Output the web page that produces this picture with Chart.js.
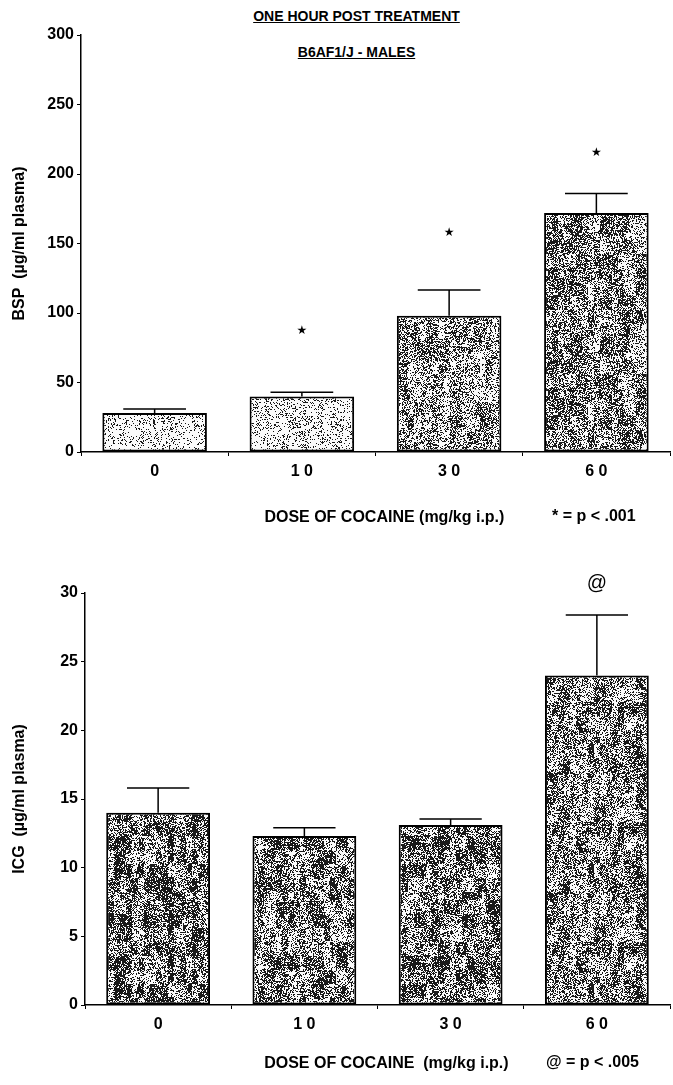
<!DOCTYPE html>
<html>
<head>
<meta charset="utf-8">
<script src="https://cdn.jsdelivr.net/npm/chart.js@4.4.1/dist/chart.umd.min.js"></script>
<style>
  body { margin:0; background:#fff; width:673px; height:1085px; position:relative; overflow:hidden;
         font-family:"Liberation Sans", Arial, sans-serif; font-weight:bold; color:#000; }
  .wrap { position:absolute; left:0; width:673px; }
  .head { position:absolute; left:20px; width:673px; text-align:center; text-decoration:underline; font-size:14px; }
  .note { position:absolute; font-size:16px; }
</style>
</head>
<body>
<div class="head" style="top:8px">ONE HOUR POST TREATMENT</div>
<div class="head" style="top:44px">B6AF1/J - MALES</div>
<div class="wrap" style="top:0;height:540px"><canvas id="bspChart" width="673" height="540"></canvas></div>
<div class="wrap" style="top:540px;height:545px"><canvas id="icgChart" width="673" height="545"></canvas></div>
<div class="note" style="left:552px;top:507px">* = p &lt; .001</div>
<div class="note" style="left:546px;top:1053px">@ = p &lt; .005</div>

<script>
// dose groups (mg/kg i.p.)
const doses = ['0', '1 0', '3 0', '6 0'];

// BSP, ug/ml plasma
const bspMean = [28, 40, 98, 172];
const bspSem = [3, 3, 18.5, 14];
const bspStars = [null, 87, 158, 215];   // * = p < .001
const bspTicks = [0, 50, 100, 150, 200, 250, 300];

// ICG, ug/ml plasma
const icgMean = [14.0, 12.3, 13.1, 24.0];
const icgSem = [1.8, 0.6, 0.45, 4.4];
const icgMarks = [null, null, null, 30.7]; // @ = p < .005
const icgTicks = [0, 5, 10, 15, 20, 25, 30];

const FONT = '"Liberation Sans", Arial, sans-serif';

// speckled grey fill like the photocopied bars (deterministic texture, not data)
function stipple(density, seed) {
  const size = 120;
  const c = document.createElement('canvas');
  c.width = c.height = size;
  const g = c.getContext('2d');
  const img = g.createImageData(size, size);
  let s = seed;
  const rnd = () => (s = (s * 16807) % 2147483647) / 2147483647;
  const cw = 6, ch = 14;
  const coarse = [];
  for (let i = 0; i < (size / cw) * Math.ceil(size / ch); i++) coarse.push(rnd());
  for (let y = 0; y < size; y++) {
    for (let x = 0; x < size; x++) {
      const k = Math.floor(y / ch) * (size / cw) + Math.floor(x / cw);
      const p = density * (0.45 + 1.1 * coarse[k]);
      const on = rnd() < p;
      const i = (y * size + x) * 4;
      const v = on ? 25 : 250;
      img.data[i] = img.data[i + 1] = img.data[i + 2] = v;
      img.data[i + 3] = 255;
    }
  }
  g.putImageData(img, 0, 0);
  return g.createPattern(c, 'repeat');
}

const errorBars = {
  id: 'errorBars',
  afterDatasetsDraw(chart, args, opts) {
    const { ctx } = chart;
    const y = chart.scales.y;
    const meta = chart.getDatasetMeta(0);
    ctx.save();
    ctx.strokeStyle = '#000';
    ctx.lineWidth = 1.5;
    meta.data.forEach((bar, i) => {
      const top = y.getPixelForValue(opts.mean[i] + opts.sem[i]);
      const half = bar.width * 0.3;
      ctx.beginPath();
      ctx.moveTo(bar.x, bar.y);
      ctx.lineTo(bar.x, top);
      ctx.moveTo(bar.x - half, top);
      ctx.lineTo(bar.x + half, top);
      ctx.stroke();
    });
    // significance marks
    ctx.fillStyle = '#000';
    ctx.font = opts.markFont;
    ctx.textAlign = 'center';
    ctx.textBaseline = 'middle';
    opts.marks.forEach((v, i) => {
      if (v == null) return;
      ctx.fillText(opts.symbol, meta.data[i].x, y.getPixelForValue(v));
    });
    ctx.restore();
  }
};

function makeChart(id, cfg) {
  const ctx = document.getElementById(id).getContext('2d');
  return new Chart(ctx, {
    type: 'bar',
    data: {
      labels: doses,
      datasets: [{
        data: cfg.mean,
        backgroundColor: cfg.fills,
        borderColor: '#000',
        borderWidth: 2,
        borderSkipped: false,
        barPercentage: 0.71,
        categoryPercentage: 1.0
      }]
    },
    options: {
      responsive: false,
      animation: false,
      devicePixelRatio: 1,
      layout: { padding: { top: cfg.padTop, right: 3, left: 0, bottom: 0 } },
      plugins: {
        legend: { display: false },
        tooltip: { enabled: false },
        errorBars: { mean: cfg.mean, sem: cfg.sem, marks: cfg.marks, symbol: cfg.symbol, markFont: cfg.markFont }
      },
      scales: {
        x: {
          grid: { display: true, drawOnChartArea: false, drawTicks: true, tickLength: 4, color: '#000', lineWidth: 1 },
          border: { color: '#000', width: 1.5 },
          ticks: { color: '#000', font: { family: FONT, size: 16, weight: 'bold' }, padding: 6 },
          title: {
            display: true,
            text: cfg.xTitle,
            color: '#000',
            font: { family: FONT, size: 16, weight: 'bold' },
            padding: { top: 0, bottom: cfg.xTitlePad }
          },
          afterFit: s => { s.height = cfg.xHeight; }
        },
        y: {
          min: 0,
          max: cfg.ticks[cfg.ticks.length - 1],
          afterBuildTicks: s => { s.ticks = cfg.ticks.map(v => ({ value: v })); },
          grid: { display: true, drawOnChartArea: false, drawTicks: true, tickLength: 4, color: '#000', lineWidth: 1 },
          border: { color: '#000', width: 1.5 },
          ticks: { color: '#000', font: { family: FONT, size: 16, weight: 'bold' }, padding: 3 },
          title: {
            display: true,
            text: cfg.yTitle,
            color: '#000',
            font: { family: FONT, size: 16, weight: 'bold' },
            padding: { top: 10, bottom: 0 }
          },
          afterFit: s => { s.width = cfg.yWidth; }
        }
      }
    },
    plugins: [errorBars]
  });
}

const light = stipple(0.16, 11), light2 = stipple(0.2, 29);
const dark = stipple(0.42, 53), dark2 = stipple(0.5, 71);

makeChart('bspChart', {
  mean: bspMean, sem: bspSem, marks: bspStars, ticks: bspTicks,
  symbol: '\u2605', markFont: '12px "DejaVu Sans"',
  fills: [light, light2, dark, dark2],
  yTitle: 'BSP  (\u00b5g/ml plasma)', xTitle: '    DOSE OF COCAINE (mg/kg i.p.)',
  padTop: 35, yWidth: 81, xHeight: 88, xTitlePad: 13
});

makeChart('icgChart', {
  mean: icgMean, sem: icgSem, marks: icgMarks, ticks: icgTicks,
  symbol: '@', markFont: '20px "Liberation Sans"',
  fills: [stipple(0.55, 7), stipple(0.5, 19), stipple(0.55, 37), stipple(0.5, 97)],
  yTitle: 'ICG  (\u00b5g/ml plasma)', xTitle: '    DOSE OF COCAINE  (mg/kg i.p.)',
  padTop: 53, yWidth: 85, xHeight: 80, xTitlePad: 12
});
</script>
</body>
</html>
